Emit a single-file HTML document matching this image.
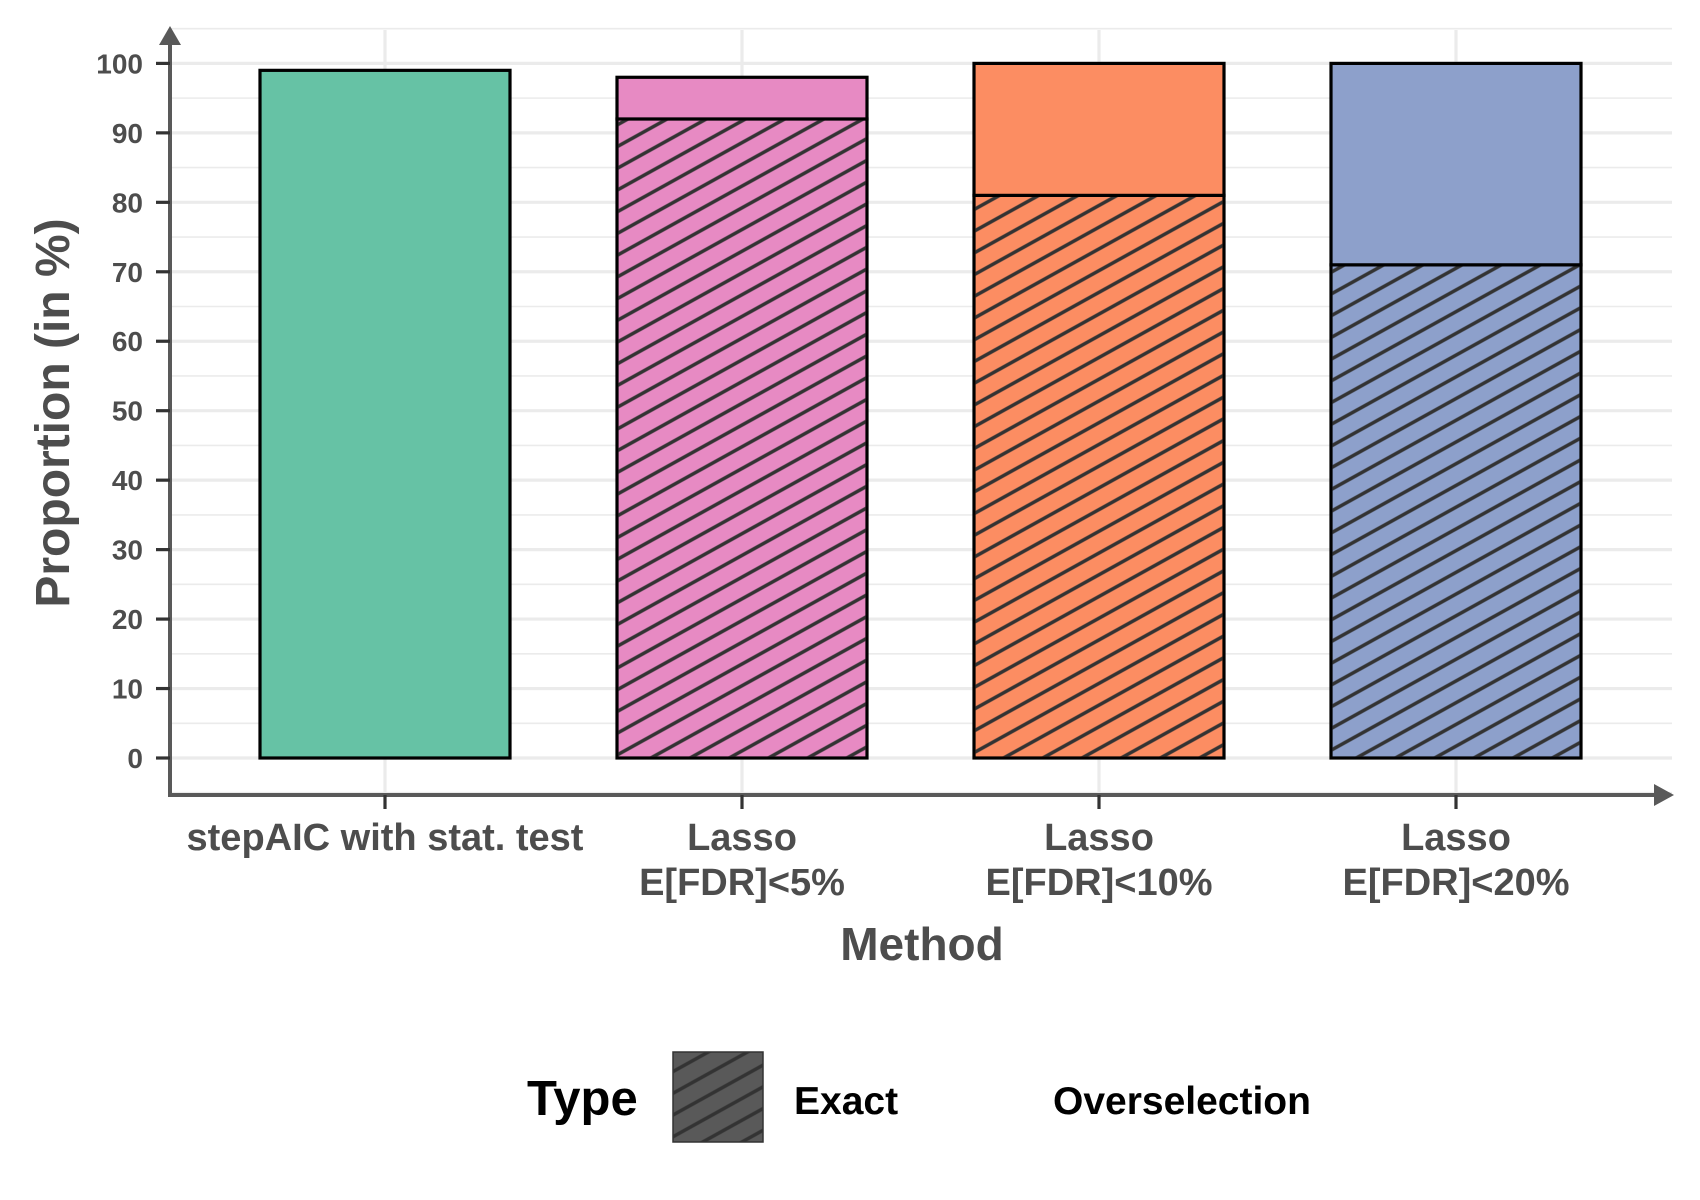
<!DOCTYPE html>
<html><head><meta charset="utf-8"><style>
body{margin:0;background:#fff;}
svg{display:block;font-family:"Liberation Sans",sans-serif;font-weight:bold;}
</style></head><body>
<svg id="chart" width="1700" height="1200" viewBox="0 0 1700 1200">
<defs>
<pattern id="hatch" patternUnits="userSpaceOnUse" width="19" height="19" patternTransform="rotate(-29)">
<line x1="0" y1="9.5" x2="19" y2="9.5" stroke="#333" stroke-width="3.6"/>
</pattern>
</defs>
<g id="grid"></g>
<g id="bars"></g>
<g id="axes"></g>
</svg>
<script>
const categories = ["stepAIC with stat. test", "Lasso\nE[FDR]<5%", "Lasso\nE[FDR]<10%", "Lasso\nE[FDR]<20%"];
const exactValues = [0, 92, 81, 71];
const overValues = [99, 6, 19, 29];
const colors = ["#66c2a5", "#e78ac3", "#fc8d62", "#8da0cb"];
const yTicks = [0,10,20,30,40,50,60,70,80,90,100];

const NS = "http://www.w3.org/2000/svg";
const y0 = 758, pxPerUnit = 6.946;
const yS = v => y0 - v * pxPerUnit;
const xS = i => 385 + i * 357;
const barW = 250;
function mk(tag, attrs, parent, text){
  const e = document.createElementNS(NS, tag);
  for (const k in attrs) e.setAttribute(k, attrs[k]);
  if (text !== undefined) e.textContent = text;
  parent.appendChild(e); return e;
}
const grid = document.getElementById('grid');
const bars = document.getElementById('bars');
const axes = document.getElementById('axes');

for (let v = -5; v <= 105; v += 10) {
  const l = mk('line', {x1:171, x2:1672, y1:yS(v), y2:yS(v), stroke:'#ebebeb', 'stroke-width':1.6}, grid);
  
  
}
yTicks.forEach(v => {
  const l = mk('line', {x1:171, x2:1672, y1:yS(v), y2:yS(v), stroke:'#ebebeb', 'stroke-width':3.2}, grid);
  
  
});
categories.forEach((c, i) => {
  const l = mk('line', {x1:xS(i), x2:xS(i), y1:30, y2:795, stroke:'#ebebeb', 'stroke-width':3.2}, grid);
  
  
});

categories.forEach((c, i) => {
  const x = xS(i) - barW / 2;
  const e = exactValues[i], o = overValues[i];
  if (e > 0) {
    const r = mk('rect', {x:x, y:yS(e), width:barW, height:yS(0)-yS(e), fill:colors[i], stroke:'#000', 'stroke-width':3.2}, bars);
    
    
    const h = mk('rect', {x:x+1.6, y:yS(e)+1.6, width:barW-3.2, height:yS(0)-yS(e)-3.2, fill:'url(#hatch)'}, bars);
    
    
  }
  const r2 = mk('rect', {x:x, y:yS(e+o), width:barW, height:yS(e)-yS(e+o), fill:colors[i], stroke:'#000', 'stroke-width':3.2}, bars);
  
  
});

const ya = mk('line', {x1:170, x2:170, y1:38, y2:796, stroke:'#595959', 'stroke-width':4}, axes);


const yArrow = mk('polygon', {points:'159,45 170,26 181,45', fill:'#595959'}, axes);


const xa = mk('line', {x1:168, x2:1660, y1:795, y2:795, stroke:'#595959', 'stroke-width':4}, axes);


const xArrow = mk('polygon', {points:'1654,784 1674,795 1654,806', fill:'#595959'}, axes);



yTicks.forEach(v => {
  const t = mk('line', {x1:156, x2:170, y1:yS(v), y2:yS(v), stroke:'#333', 'stroke-width':3.2}, axes);
  
  
  const lb = mk('text', {x:143, y:yS(v)+10, 'text-anchor':'end', 'font-size':28, fill:'#4d4d4d'}, axes, String(v));
  
  
});
categories.forEach((c, i) => {
  const t = mk('line', {x1:xS(i), x2:xS(i), y1:795, y2:809, stroke:'#333', 'stroke-width':3.2}, axes);
  
  
  c.split('\n').forEach((line, j) => {
    const lb = mk('text', {x:xS(i), y:850 + j*45, 'text-anchor':'middle', 'font-size':38, fill:'#4d4d4d'}, axes, line);
    
    
  });
});
const xt = mk('text', {x:922, y:960, 'text-anchor':'middle', 'font-size':46, fill:'#4d4d4d'}, axes, 'Method');


const yt = mk('text', {x:0, y:0, 'text-anchor':'middle', 'font-size':48, fill:'#4d4d4d', transform:'translate(69,413) rotate(-90)'}, axes, 'Proportion (in %)');



const lt = mk('text', {x:527, y:1115, 'font-size':49, fill:'#000'}, axes, 'Type');


const sw = mk('rect', {x:673, y:1058-6, width:90, height:90, fill:'#595959', stroke:'#333', 'stroke-width':1.5}, axes);


const swh = mk('rect', {x:673, y:1052, width:90, height:90, fill:'url(#hatch)'}, axes);


const le = mk('text', {x:794, y:1114, 'font-size':39, fill:'#000'}, axes, 'Exact');


const lo = mk('text', {x:1053, y:1114, 'font-size':39, fill:'#000'}, axes, 'Overselection');


</script>
</body></html>
